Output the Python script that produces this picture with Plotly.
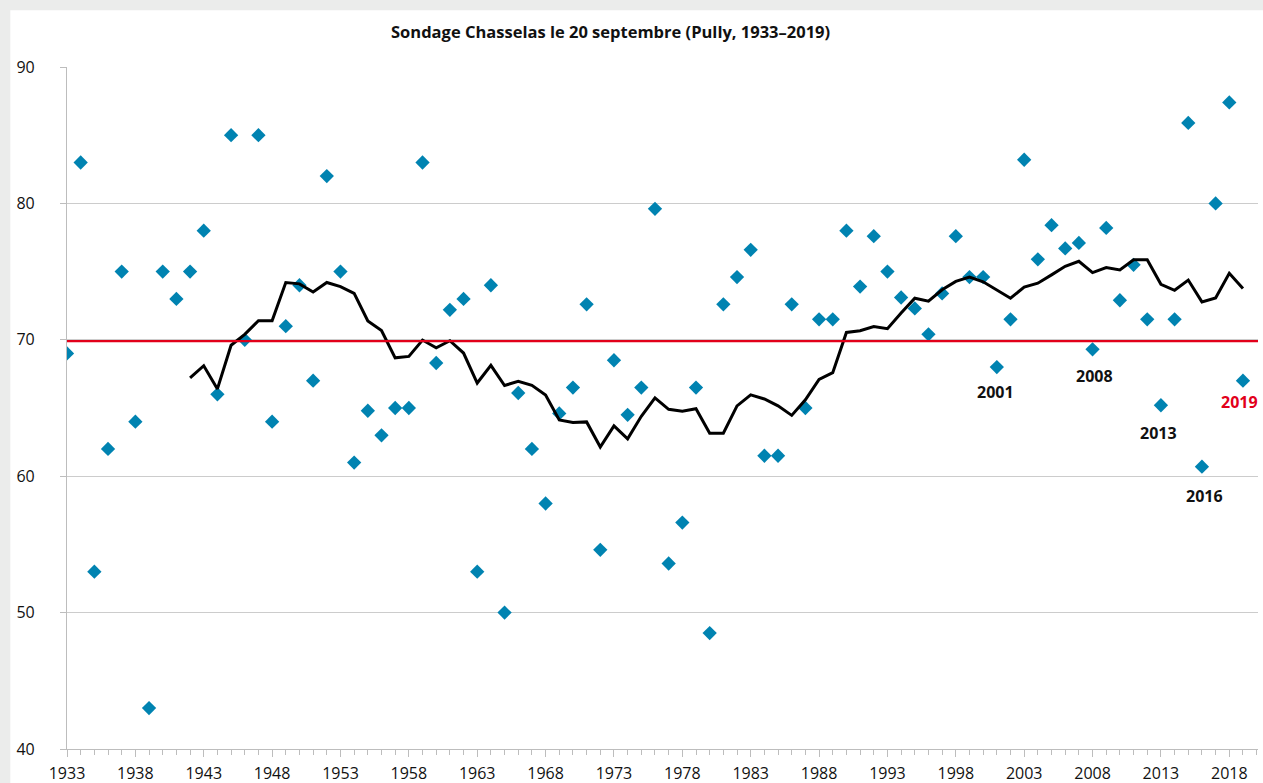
import plotly.graph_objects as go

# ---- data ----
years = list(range(1933, 2020))
sondage = [69, 83, 53, 62, 75, 64, 43, 75, 73, 75,
           78, 66, 85, 70, 85, 64, 71, 74, 67, 82,
           75, 61, 64.8, 63, 65, 65, 83, 68.3, 72.2, 73,
           53, 74, 50, 66.1, 62, 58, 64.6, 66.5, 72.6, 54.6,
           68.5, 64.5, 66.5, 79.6, 53.6, 56.6, 66.5, 48.5, 72.6, 74.6,
           76.6, 61.5, 61.5, 72.6, 65, 71.5, 71.5, 78, 73.9, 77.6,
           75, 73.1, 72.3, 70.4, 73.4, 77.6, 74.6, 74.6, 68, 71.5,
           83.2, 75.9, 78.4, 76.7, 77.1, 69.3, 78.2, 72.9, 75.5, 71.5,
           65.2, 71.5, 85.9, 60.7, 80, 87.4, 67]

ma_years = list(range(1942, 2020))
moyenne_mobile = [67.2, 68.1, 66.4, 69.6, 70.4, 71.4, 71.4, 74.2, 74.1, 73.5,
                  74.2, 73.9, 73.4, 71.38, 70.68, 68.68, 68.78, 69.98, 69.41, 69.93,
                  69.03, 66.83, 68.13, 66.65, 66.96, 66.66, 65.96, 64.12, 63.94, 63.98,
                  62.14, 63.69, 62.74, 64.39, 65.74, 64.9, 64.76, 64.95, 63.15, 63.15,
                  65.15, 65.96, 65.66, 65.16, 64.46, 65.6, 67.09, 67.59, 70.54, 70.67,
                  70.97, 70.81, 71.97, 73.05, 72.83, 73.67, 74.28, 74.59, 74.25, 73.66,
                  73.05, 73.87, 74.15, 74.76, 75.39, 75.76, 74.93, 75.29, 75.12, 75.87,
                  75.87, 74.07, 73.63, 74.38, 72.78, 73.07, 74.88, 73.76]

reference_level = 69.9

label_years = ["2001", "2008", "2013", "2016", "2019"]
label_x = [2000.93, 2008.12, 2012.85, 2016.2, 2018.72]
label_y = [66.19, 67.36, 63.14, 58.55, 65.41]
label_colors = ["#111111", "#111111", "#111111", "#111111", "#E2001A"]

x_ticks = list(range(1933, 2020, 5))
y_ticks = [40, 50, 60, 70, 80, 90]

title_text = "Sondage Chasselas le 20 septembre (Pully, 1933\u20132019)"

FONT = "Open Sans"

fig = go.Figure()

fig.add_trace(go.Scatter(
    x=years, y=sondage, mode="markers",
    marker=dict(symbol="diamond", size=11, color="#0083B1", line=dict(width=0)),
    showlegend=False, hoverinfo="x+y"))

fig.add_trace(go.Scatter(
    x=ma_years, y=moyenne_mobile, mode="lines",
    line=dict(color="#000000", width=3),
    showlegend=False, hoverinfo="x+y"))

# white panel on the gray frame
fig.add_shape(type="rect", xref="paper", yref="paper",
              x0=-0.0476, x1=1.02, y0=-0.07, y1=1.0831,
              fillcolor="white", line=dict(width=0), layer="below")

# red reference line
fig.add_shape(type="line", xref="paper", yref="y",
              x0=0, x1=1, y0=reference_level, y1=reference_level,
              line=dict(color="#E2001A", width=2.2), layer="above")

for t, xx, yy, c in zip(label_years, label_x, label_y, label_colors):
    fig.add_annotation(x=xx, y=yy, text="<b>%s</b>" % t, showarrow=False,
                       font=dict(family=FONT, size=16, color=c),
                       xanchor="center", yanchor="middle")

fig.add_annotation(xref="paper", yref="paper", x=0.4564, y=1.0523,
                   text="<b>%s</b>" % title_text, showarrow=False,
                   font=dict(family=FONT, size=16.5, color="#111111"),
                   xanchor="center", yanchor="middle")

fig.update_layout(
    width=1263, height=783,
    margin=dict(l=67, r=5, t=67, b=34, pad=0, autoexpand=False),
    paper_bgcolor="#EBECEB", plot_bgcolor="white",
    font=dict(family=FONT, size=16, color="#111111"),
    xaxis=dict(range=[1933, 2020.1], tickmode="array", tickvals=x_ticks,
               ticktext=[str(v) for v in x_ticks], automargin=False,
               showgrid=False, zeroline=False,
               showline=True, linecolor="#BDBDBD", linewidth=1.2,
               ticks="outside", ticklen=7, tickcolor="#BDBDBD", tickwidth=1.2,
               minor=dict(dtick=1, tick0=1933, ticks="outside", ticklen=5,
                          tickcolor="#BDBDBD", tickwidth=1, showgrid=False),
               tickfont=dict(family=FONT, size=16, color="#111111"),
               ticklabelstandoff=3),
    yaxis=dict(range=[40, 90], tickmode="array", tickvals=y_ticks, automargin=False,
               showgrid=True, gridcolor="#CCCCCC", gridwidth=1.3,
               zeroline=False, showline=True, linecolor="#BDBDBD", linewidth=1.2,
               ticks="outside", ticklen=6, tickcolor="#BDBDBD", tickwidth=1.2,
               tickfont=dict(family=FONT, size=16, color="#111111"),
               ticklabelstandoff=22),
)

fig.write_html("out.html",
               config={"displayModeBar": False},
               post_script="document.body.style.margin='0px';"
                           "document.body.style.overflow='hidden';")
